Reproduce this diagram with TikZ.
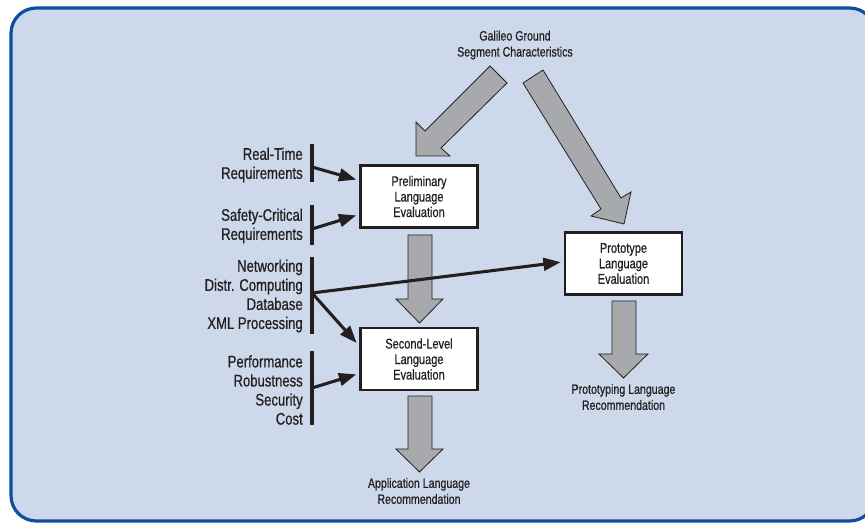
\documentclass[tikz,border=0pt]{standalone}
\usepackage{fontspec}
\setmainfont{Liberation Sans}[FakeStretch=0.78,FakeBold=0.6]
\usetikzlibrary{arrows.meta,calc}
\definecolor{bgblue}{RGB}{205,216,235}
\definecolor{frameblue}{RGB}{12,78,160}
\definecolor{arrgray}{RGB}{168,169,173}
\definecolor{txt}{RGB}{35,31,32}
\tikzset{
  lbl/.style={anchor=east, align=right, inner sep=0pt, text=txt,
    font=\fontsize{12.6}{14.3}\selectfont},
  caption/.style={align=center, inner sep=0pt, text=txt,
    font=\fontsize{10.2}{12}\selectfont},
  evalbox/.style={draw=txt, line width=2.2pt, fill=white, align=center,
    minimum width=87.75pt, minimum height=46.5pt, inner sep=0pt, text=txt,
    font=\fontsize{10.6}{11.6}\selectfont},
  bar/.style={draw=txt, line width=2.3pt},
  conn/.style={draw=txt, line width=2.3pt, shorten >=1pt,
    -{Triangle[length=13pt,width=9.5pt]}},
  bigarrow/.style={fill=arrgray, draw=txt, line width=0.6pt, line join=miter}
}
\begin{document}
\begin{tikzpicture}[x=0.75pt,y=-0.75pt]
\clip (0,0) rectangle (865,523);
\fill[white] (0,0) rectangle (865,523);
\draw[frameblue, fill=bgblue, line width=2.4pt, rounded corners=19pt] (11,8) rectangle (875,521);

% title
\node[caption] (title) at (515,45) {Galileo Ground\\Segment Characteristics};

% big diagonal arrows
\draw[bigarrow] (490,66) -- (507,83) -- (441,148) -- (450,156) -- (416,156) -- (416,122) -- (425,131) -- cycle;
\draw[bigarrow] (523,83) -- (543,70) -- (621,198) -- (631,192) -- (624,224) -- (591,216) -- (601,209) -- cycle;

% boxes
\node[evalbox] (prelim) at (419,196.5) {Preliminary\\Language\\Evaluation};
\node[evalbox] (second) at (419,359) {Second-Level\\Language\\Evaluation};
\node[evalbox] (proto) at (623.5,263.5) {Prototype\\Language\\Evaluation};

% down arrows
\draw[bigarrow] (408,235) -- (432,235) -- (432,299) -- (443,299) -- (419.5,323) -- (396,299) -- (408,299) -- cycle;
\draw[bigarrow] (408,396) -- (432,396) -- (432,449) -- (443,449) -- (419.5,472) -- (396,449) -- (408,449) -- cycle;
\draw[bigarrow] (612,301) -- (636,301) -- (636,354) -- (648,354) -- (623.5,378) -- (599,354) -- (612,354) -- cycle;

% result captions
\node[caption] (applrec) at (419,491) {Application Language\\Recommendation};
\node[caption] (protorec) at (623.5,397) {Prototyping Language\\Recommendation};

% left labels
\node[lbl] (l1) at (303,165) {Real-Time\\Requirements};
\node[lbl] (l2) at (303,226) {Safety-Critical\\Requirements};
\node[lbl] (l3) at (303,296) {Networking\\Distr. Computing\\Database\\XML Processing};
\node[lbl] (l4) at (303,390) {Performance\\Robustness\\Security\\Cost};

% bars
\coordinate (b1t) at (312,144); \coordinate (b1b) at (312,182);
\coordinate (b2t) at (312,205); \coordinate (b2b) at (312,245);
\coordinate (b3t) at (312,257); \coordinate (b3b) at (312,334);
\coordinate (b4t) at (312,351); \coordinate (b4b) at (312,425);
\draw[bar] (b1t) -- (b1b);
\draw[bar] (b2t) -- (b2b);
\draw[bar] (b3t) -- (b3b);
\draw[bar] (b4t) -- (b4b);

% connector starts
\coordinate (s1) at (312,167);
\coordinate (s2) at (312,229);
\coordinate (s3) at (312,293);
\coordinate (s4) at (312,388);

\draw[conn] (s1) -- ($(prelim.west)+(-1.5,-16.5)$);
\draw[conn] (s2) -- ($(prelim.west)+(-1.5,18.5)$);
\draw[conn] (s3) -- ($(proto.west)+(-1.5,-1.5)$);
\draw[conn] (s3) -- ($(second.west)+(-1.5,-15)$);
\draw[conn] (s4) -- ($(second.west)+(-1.5,15)$);
\end{tikzpicture}
\end{document}
